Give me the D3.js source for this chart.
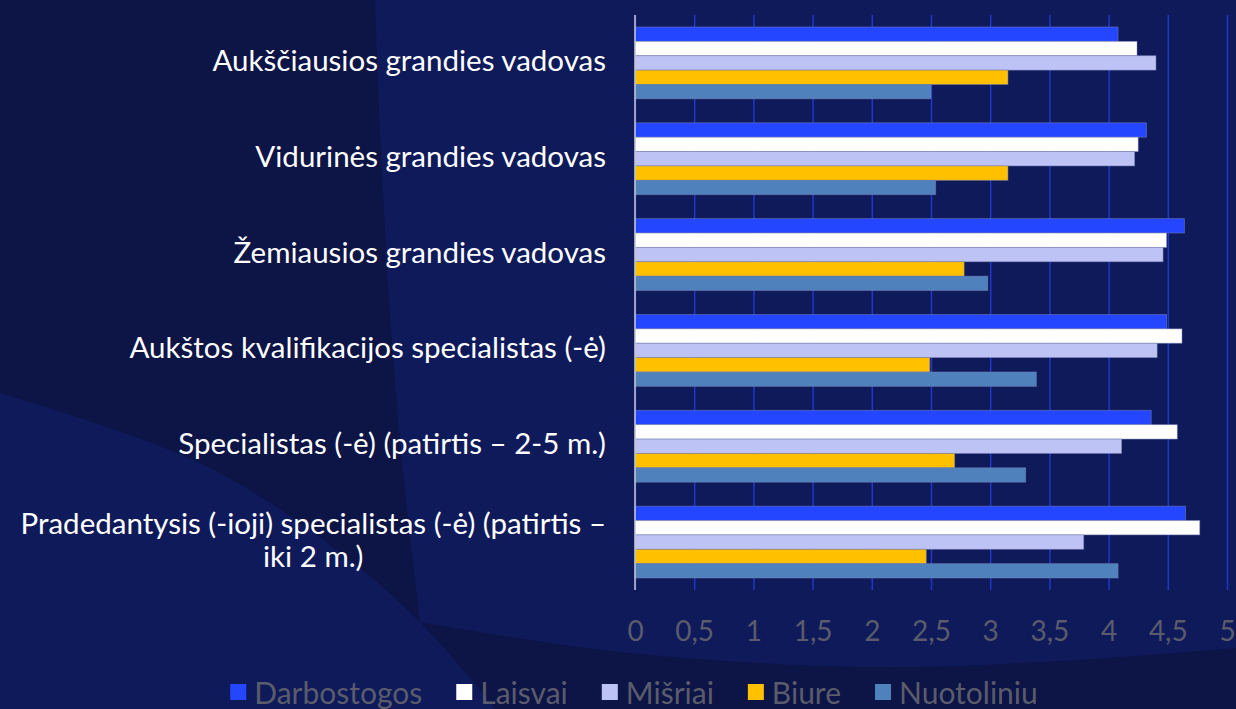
<!DOCTYPE html>
<html>
<head>
<meta charset="utf-8">
<script src="https://cdn.jsdelivr.net/npm/d3@7"></script>
<style>
  body { margin: 0; background: #0d1446; }
  svg { display: block; }
</style>
</head>
<body>
<svg id="chart"></svg>
<script>
// categories top to bottom
const categories = [
  "Aukščiausios grandies vadovas",
  "Vidurinės grandies vadovas",
  "Žemiausios grandies vadovas",
  "Aukštos kvalifikacijos specialistas (-ė)",
  "Specialistas (-ė) (patirtis – 2-5 m.)",
  "Pradedantysis (-ioji) specialistas (-ė) (patirtis – iki 2 m.)"
];
const seriesNames = ["Darbostogos", "Laisvai", "Mišriai", "Biure", "Nuotoliniu"];

const darbostogos = [4.08, 4.32, 4.64, 4.49, 4.36, 4.65];
const laisvai     = [4.24, 4.25, 4.49, 4.62, 4.58, 4.77];
const misriai     = [4.40, 4.22, 4.46, 4.41, 4.11, 3.79];
const biure       = [3.15, 3.15, 2.78, 2.49, 2.70, 2.46];
const nuotoliniu  = [2.50, 2.54, 2.98, 3.39, 3.30, 4.08];

const xTicks = [0, 0.5, 1, 1.5, 2, 2.5, 3, 3.5, 4, 4.5, 5];

const seriesValues = [darbostogos, laisvai, misriai, biure, nuotoliniu];
const colors = ["#2546ff", "#ffffff", "#bdc4f5", "#ffc000", "#4f81bd"];

const width = 1236, height = 709;
const plot = { left: 635, right: 1227, top: 15, bottom: 590 };
const font = "Lato, 'Open Sans', sans-serif";

const svg = d3.select("#chart").attr("width", width).attr("height", height);

// background shapes
const bg = svg.append("g");
bg.append("rect").attr("width", width).attr("height", height).attr("fill", "#0d1446");
const curve = d3.line().curve(d3.curveCatmullRom);
bg.append("path")
  .attr("d", curve([[0, 393], [200, 463], [333, 547], [420, 622], [496, 709]]) + "L0,709Z")
  .attr("fill", "#0f1a5a");
bg.append("path")
  .attr("d", curve([[375, 0], [381, 150], [389, 300], [401, 450], [420, 622]]) +
             curve([[420, 622], [620, 652], [870, 667], [1060, 661], [1236, 648]]).replace(/^M/, "L") +
             "L1236,0Z")
  .attr("fill", "#0f1a5b");

const x = d3.scaleLinear().domain([0, 5]).range([plot.left, plot.right]);
const y0 = d3.scaleBand().domain(categories).range([plot.top, plot.bottom])
  .paddingInner(0.25).paddingOuter(0.125);
const y1 = d3.scaleBand().domain(seriesNames).range([0, y0.bandwidth()]);

// gridlines
svg.append("g")
  .attr("transform", `translate(0,${plot.bottom})`)
  .call(d3.axisBottom(x).tickValues(xTicks).tickSize(-(plot.bottom - plot.top)).tickFormat(""))
  .call(g => g.select(".domain").remove())
  .call(g => g.selectAll(".tick line").attr("stroke", "#2236c8").attr("stroke-width", 1.5));

// tick labels
svg.append("g")
  .attr("transform", `translate(0,${plot.bottom})`)
  .call(d3.axisBottom(x).tickValues(xTicks).tickSize(0).tickPadding(31)
    .tickFormat(d => String(d).replace(".", ",")))
  .call(g => g.select(".domain").remove())
  .call(g => g.selectAll("text").attr("fill", "#5a5c6c")
    .attr("font-family", font).attr("font-size", 28));

// bars
const groups = svg.append("g").selectAll("g")
  .data(categories)
  .join("g")
  .attr("transform", d => `translate(0,${y0(d)})`);

groups.selectAll("rect")
  .data((c, i) => seriesNames.map((s, j) => ({ s, v: seriesValues[j][i], j })))
  .join("rect")
  .attr("x", x(0))
  .attr("y", d => y1(d.s))
  .attr("width", d => x(d.v) - x(0))
  .attr("height", y1.bandwidth())
  .attr("fill", d => colors[d.j])
  .attr("stroke", "#7a82b4")
  .attr("stroke-opacity", 0.6)
  .attr("stroke-width", 0.8);

// category axis line
svg.append("line")
  .attr("x1", x(0)).attr("x2", x(0))
  .attr("y1", plot.top).attr("y2", plot.bottom)
  .attr("stroke", "#c8c8d0").attr("stroke-width", 1.5);

// category labels (wrapped, block right-aligned, lines centred)
const labelRight = 606, maxLabelW = 606, lineH = 33;
const labels = svg.append("g")
  .attr("font-family", font).attr("font-size", 29.5).attr("fill", "#ffffff");

categories.forEach(c => {
  const words = c.split(" ");
  const lines = [];
  let cur = "";
  const probe = labels.append("text");
  words.forEach(w => {
    const test = cur ? cur + " " + w : w;
    probe.text(test);
    if (probe.node().getComputedTextLength() > maxLabelW && cur) {
      lines.push(cur);
      cur = w;
    } else cur = test;
  });
  lines.push(cur);
  const widths = lines.map(l => { probe.text(l); return probe.node().getComputedTextLength(); });
  probe.remove();
  const blockW = d3.max(widths);
  const cy = y0(c) + y0.bandwidth() / 2;
  const t = labels.append("text")
    .attr("text-anchor", "middle")
    .attr("dominant-baseline", "central");
  lines.forEach((l, k) => {
    t.append("tspan")
      .attr("x", labelRight - blockW / 2)
      .attr("y", cy - 4 + (k - (lines.length - 1) / 2) * lineH)
      .text(l);
  });
});

// legend
const legend = svg.append("g").attr("font-family", font).attr("font-size", 30);
let lx = 0;
seriesNames.forEach((s, i) => {
  const g = legend.append("g");
  g.append("rect").attr("x", 0).attr("y", -8).attr("width", 16).attr("height", 16).attr("fill", colors[i]);
  const t = g.append("text").attr("x", 24).attr("dominant-baseline", "central")
    .attr("fill", "#5a5c6c").text(s);
  const w = 24 + t.node().getComputedTextLength();
  g.attr("transform", `translate(${lx},0)`);
  lx += w + 34;
});
const legendW = lx - 34;
legend.attr("transform", `translate(${634 - legendW / 2},692)`);
</script>
</body>
</html>
